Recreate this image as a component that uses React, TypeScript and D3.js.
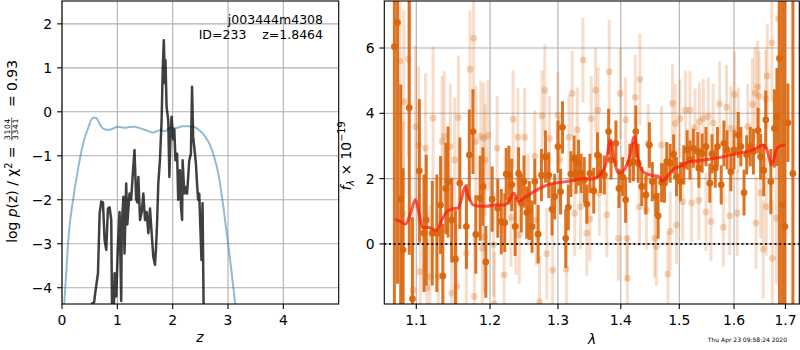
import * as d3 from 'd3';
import React from 'react';

/* Redshift fit summary: p(z) on the left, grism spectrum + model on the right */

const FONT = '"DejaVu Sans", sans-serif';

// ---- left panel: log p(z)
const pzTicksX = [0, 1, 2, 3, 4];
const pzTicksY = [-4, -3, -2, -1, 0, 1, 2];

const priorZ = [0.04, 0.08, 0.11, 0.15, 0.2, 0.27, 0.35, 0.42, 0.47, 0.52, 0.57, 0.62, 0.66, 0.71, 0.78, 0.85, 0.92, 1.0, 1.07, 1.13, 1.2, 1.31, 1.4, 1.52, 1.64, 1.77, 1.87, 1.95, 2.05, 2.18, 2.28, 2.37, 2.43, 2.48, 2.55, 2.63, 2.69, 2.74, 2.83, 2.92, 3.0, 3.06, 3.13];
const priorLogP = [-4.37, -3.6, -2.98, -2.45, -2.0, -1.45, -0.9, -0.55, -0.38, -0.2, -0.13, -0.14, -0.22, -0.34, -0.4, -0.41, -0.38, -0.34, -0.35, -0.36, -0.35, -0.34, -0.37, -0.42, -0.47, -0.42, -0.44, -0.36, -0.37, -0.33, -0.33, -0.34, -0.37, -0.42, -0.5, -0.65, -0.8, -0.98, -1.44, -2.2, -2.98, -3.6, -4.37];

const fitZ = [0.5, 0.55, 0.58, 0.6, 0.65, 0.68, 0.71, 0.74, 0.77, 0.8, 0.83, 0.86, 0.89, 0.905, 0.935, 0.95, 0.98, 1.01, 1.04, 1.07, 1.08, 1.11, 1.13, 1.16, 1.18, 1.2, 1.22, 1.25, 1.28, 1.31, 1.34, 1.36, 1.38, 1.41, 1.44, 1.47, 1.5, 1.53, 1.56, 1.59, 1.62, 1.65, 1.68, 1.7, 1.72, 1.74, 1.77, 1.8, 1.82, 1.84, 1.86, 1.87, 1.89, 1.92, 1.94, 1.96, 1.98, 2.01, 2.03, 2.05, 2.08, 2.1, 2.13, 2.15, 2.17, 2.18, 2.21, 2.23, 2.26, 2.28, 2.3, 2.33, 2.35, 2.37, 2.39, 2.42, 2.44, 2.46, 2.48, 2.5, 2.52, 2.54, 2.56];
const fitLogP = [-4.6, -4.35, -4.33, -4.13, -3.67, -2.31, -2.04, -2.06, -2.92, -3.14, -2.2, -2.17, -2.46, -4.6, -4.6, -3.67, -4.2, -3.07, -2.28, -4.3, -2.58, -1.93, -3.22, -1.63, -2.56, -2.2, -1.86, -2.0, -1.4, -0.87, -1.98, -2.06, -1.48, -2.46, -2.28, -1.86, -2.46, -2.28, -2.76, -2.2, -2.76, -3.3, -3.48, -3.07, -2.46, -1.63, -1.1, -0.19, 0.95, 1.63, 0.65, 1.17, 0.11, -0.19, -1.48, -0.57, -0.11, -0.63, -0.4, -1.1, -0.95, -2.0, -1.33, -2.14, -2.46, -1.1, -1.86, -1.71, -1.86, -1.48, -1.1, -0.95, 0.57, -0.57, -0.8, -1.18, -1.63, -2.0, -1.86, -2.61, -3.37, -2.08, -4.6];

// ---- right panel: spectrum (flux in 1e-19 units)
const specTicksX = [1.1, 1.2, 1.3, 1.4, 1.5, 1.6, 1.7];
const specTicksY = [0, 2, 4, 6];

const grismWave = [1.072, 1.076, 1.08, 1.083, 1.091, 1.095, 1.104, 1.11, 1.113, 1.121, 1.127, 1.132, 1.135, 1.139, 1.142, 1.147, 1.152, 1.158, 1.167, 1.171, 1.176, 1.18, 1.186, 1.19, 1.194,
  1.203, 1.211, 1.216, 1.221, 1.223, 1.227, 1.231, 1.236, 1.241, 1.245, 1.249, 1.253, 1.257, 1.261, 1.265, 1.27, 1.275, 1.281, 1.286, 1.291, 1.295, 1.3, 1.304, 1.307, 1.312, 1.316, 1.32, 1.325, 1.328, 1.332, 1.336, 1.341, 1.345, 1.35,
  1.356, 1.362, 1.367, 1.373, 1.38, 1.384, 1.392, 1.397, 1.403, 1.408, 1.415, 1.421, 1.425, 1.429, 1.435, 1.442, 1.448, 1.453, 1.459, 1.463, 1.469, 1.474, 1.478, 1.484, 1.49, 1.495, 1.502, 1.508, 1.514, 1.519, 1.525,
  1.533, 1.535, 1.541, 1.548, 1.555, 1.559, 1.565, 1.569, 1.576, 1.581, 1.587, 1.594, 1.6, 1.608, 1.613, 1.619, 1.624, 1.631, 1.637, 1.646, 1.651, 1.657, 1.661, 1.671, 1.678, 1.683, 1.688, 1.694, 1.699, 1.705, 1.715];
const grismFlux = [6.04, 6.78, 1.38, -0.18, 4.17, -1.68, 2.24, 0.33, 0.73, 0.33, 0.33, 1.19, -0.98, 1.7, 1.9, 0.73, -0.47, 1.86, 0.53, 2.72, 3.44, 0.29, 1.4, 1.76, -0.55,
  1.37, 1.09, 0.68, 0.65, 2.14, 2.11, 1.81, 0.53, 2.16, 1.25, 1.91, 0.96, 1.02, 0.53, 1.91, 0.3, 2.11, 2.67, 2.11, 1.06, 1.45, 2.98, 1.6, 3.57, 0.17, 1.12, 2.14, 2.62, 2.14, 2.49, 2.16, 1.96, 1.22, 2.16,
  1.63, 2.72, 2.16, 2.11, 3.44, 2.57, 3.08, 1.7, 2.06, 1.35, 2.47, 2.52, 3.44, 2.47, 1.76, 1.5, 3.03, 1.91, 1.45, 0.86, 1.88, 1.86, 2.52, 2.47, 2.75, 2.06, 1.91, 2.42, 2.88, 2.57, 2.93,
  2.83, 2.32, 2.78, 2.98, 1.86, 2.76, 2.32, 2.98, 1.81, 3.08, 2.88, 2.21, 2.88, 3.34, 2.98, 1.57, 2.73, 2.98, 2.83, 3.47, 2.67, 2.26, 3.8, 1.91, 3.54, 3.89, 5.68, 1.2, 0.53, 3.71, 2.16];
const grismErr = [8, 8, 3.5, 2.5, 4.5, 2.5, 2.2, 1.8, 2.0, 1.6, 1.8, 1.5, 1.6, 1.4, 1.7, 1.3, 1.5, 1.4, 1.3, 1.4, 1.3, 1.2, 1.3, 1.2, 1.1,
  1.0, 0.9, 1.0, 0.9, 0.8, 0.9, 0.8, 0.9, 0.8, 0.9, 0.8, 0.8, 0.9, 0.8, 0.7, 0.9, 0.8, 0.8, 0.7, 0.8, 0.7, 0.8, 0.7, 0.8, 0.9, 0.7, 0.7, 0.7, 0.6, 0.7, 0.6, 0.7, 0.6, 0.6,
  0.7, 0.7, 0.6, 0.6, 0.7, 0.6, 0.7, 0.6, 0.6, 0.7, 0.6, 0.6, 0.8, 0.6, 0.6, 0.6, 0.7, 0.6, 0.6, 0.7, 0.6, 0.6, 0.6, 0.6, 0.6, 0.6, 0.6, 0.6, 0.6, 0.6, 0.6,
  0.6, 0.6, 0.6, 0.6, 0.6, 0.6, 0.6, 0.6, 0.6, 0.7, 0.6, 0.6, 0.6, 0.7, 0.6, 0.7, 0.6, 0.6, 0.7, 0.7, 0.7, 0.8, 0.9, 1.0, 1.2, 1.5, 8, 8, 8, 1.2, 8];

const altWave = [1.079, 1.083, 1.084, 1.09, 1.096, 1.099, 1.103, 1.105, 1.112, 1.114, 1.118, 1.122, 1.129, 1.134, 1.137, 1.145, 1.147, 1.151, 1.154, 1.156, 1.167, 1.172, 1.177, 1.178, 1.18, 1.187, 1.189, 1.191, 1.192, 1.193,
  1.197, 1.205, 1.206, 1.21, 1.22, 1.23, 1.233, 1.237, 1.24, 1.242, 1.25, 1.255, 1.265, 1.267, 1.272, 1.276, 1.28, 1.283, 1.287, 1.292, 1.3, 1.303, 1.313, 1.317, 1.322, 1.326, 1.33, 1.335, 1.339, 1.345, 1.35, 1.352,
  1.359, 1.363, 1.365, 1.377, 1.381, 1.396, 1.399, 1.408, 1.41, 1.411, 1.424, 1.431, 1.432, 1.443, 1.446, 1.457, 1.46, 1.469, 1.48, 1.484, 1.488, 1.493, 1.495, 1.501, 1.506, 1.511, 1.519, 1.522, 1.528,
  1.535, 1.536, 1.543, 1.548, 1.552, 1.557, 1.561, 1.573, 1.58, 1.586, 1.592, 1.594, 1.601, 1.606, 1.608, 1.626, 1.635, 1.64, 1.642, 1.645, 1.648, 1.651, 1.656, 1.661, 1.662, 1.664, 1.673, 1.674, 1.682, 1.686];
const altFlux = [5.6, 0.94, 4.36, 5.66, -1.41, 3.59, 3.03, -0.85, 2.93, -1.35, -1.0, 3.85, -1.0, 3.14, 3.29, 2.98, -1.51, 2.57, -1.31, 3.87, -0.29, 5.35, 6.3, -1.61, 3.14, 3.3, -0.13, 3.23, 0.22, 2.57,
  3.32, -0.02, -1.84, 2.93, -0.95, 0.8, 3.82, 0.55, 3.27, 0.28, 3.27, 1.37, 2.69, 0.73, -1.77, 3.92, 4.71, -0.3, 3.23, -0.8, 3.95, 2.57, -0.77, 3.27, 4.61, 0.94, 3.49, 1.14, 5.63, 0.33, 0.77, 3.84,
  4.71, 4.1, 1.55, 0.89, 5.27, 0.17, 4.61, 3.8, 0.17, -1.05, 4.49, 1.14, 5.04, 1.04, 3.08, 0.17, -0.08, 3.03, -0.92, 0.38, 4.3, 3.69, 0.58, 3.84, 1.29, 4.1, 4.1, 1.26, 3.56,
  1.33, 3.75, 3.85, 0.98, 3.9, 0.68, 3.71, 4.29, 0.51, 4.19, 0.86, 3.54, 4.58, 0.94, 3.49, 3.59, 4.27, 4.62, 0.64, 4.81, 4.52, 1.57, -0.16, 4.45, 1.14, 5.14, 6.16, -0.44, 0.79, 6.9];
const altErr = [3.0, 2.8, 2.8, 3.0, 2.5, 2.5, 2.4, 2.4, 2.3, 2.3, 2.2, 2.2, 2.0, 2.0, 2.0, 1.9, 1.9, 1.9, 1.9, 1.9, 1.8, 1.8, 1.8, 1.8, 1.7, 1.7, 1.7, 1.7, 1.7, 1.7,
  1.7, 1.6, 1.6, 1.6, 1.6, 1.5, 1.5, 1.5, 1.5, 1.5, 1.5, 1.4, 1.4, 1.4, 1.4, 1.4, 1.4, 1.4, 1.3, 1.4, 1.3, 1.3, 1.3, 1.3, 1.3, 1.3, 1.3, 1.3, 1.3, 1.3, 1.3, 1.3,
  1.3, 1.3, 1.3, 1.3, 1.6, 1.3, 1.4, 1.3, 1.3, 1.3, 1.3, 1.2, 1.4, 1.2, 1.2, 1.2, 1.2, 1.2, 1.3, 1.2, 1.2, 1.2, 1.2, 1.2, 1.2, 1.2, 1.2, 1.2, 1.2,
  1.2, 1.2, 1.2, 1.2, 1.2, 1.2, 1.2, 1.3, 1.2, 1.3, 1.2, 1.3, 1.3, 1.3, 1.3, 1.3, 1.4, 1.4, 1.4, 1.4, 1.4, 1.4, 1.5, 1.5, 1.5, 1.6, 1.8, 1.8, 2.0, 2.5];

const modelWave = [1.073, 1.08, 1.086, 1.092, 1.099, 1.104, 1.108, 1.116, 1.122, 1.127, 1.133, 1.139, 1.147, 1.156, 1.16, 1.165, 1.17, 1.176, 1.185, 1.195, 1.208, 1.221, 1.228, 1.234, 1.241, 1.25, 1.267, 1.289, 1.31, 1.325, 1.34, 1.353, 1.365, 1.375, 1.383, 1.39, 1.396, 1.405, 1.415, 1.4225, 1.43, 1.44, 1.452, 1.464, 1.47, 1.478, 1.49, 1.5, 1.518, 1.534, 1.555, 1.575, 1.591, 1.61, 1.63, 1.645, 1.655, 1.663, 1.668, 1.672, 1.677, 1.682, 1.69, 1.7];
const modelFlux = [0.75, 0.68, 0.6, 0.9, 1.35, 0.9, 0.5, 0.5, 0.45, 0.42, 0.7, 0.95, 1.07, 1.1, 1.35, 1.75, 1.45, 1.2, 1.15, 1.15, 1.2, 1.19, 1.35, 1.55, 1.3, 1.42, 1.64, 1.84, 1.9, 1.95, 2.0, 1.99, 2.1, 2.4, 3.18, 2.5, 2.17, 2.25, 2.7, 3.28, 2.5, 2.17, 2.1, 2.07, 1.92, 2.05, 2.3, 2.37, 2.52, 2.55, 2.6, 2.65, 2.72, 2.78, 2.85, 2.95, 3.03, 2.9, 2.6, 2.42, 2.6, 2.9, 3.0, 3.04];

const L = { left: 62, right: 338.7, top: 1, bottom: 304 };
const R = { left: 384.3, right: 799.3, top: 1, bottom: 304 };
const TICK = 4.9;
const FS = 13.9;
const ORANGE = '#d9650c';
const GRID = '#b0b0b0';

const fmt = (v: number) => (v < 0 ? '\u2212' + Math.abs(v) : String(v));

function App() {
  const xz = d3.scaleLinear().domain([0, 5]).range([L.left, L.right]);
  const yz = d3.scaleLinear().domain([-4.37, 2.52]).range([L.bottom, L.top]);
  const xl = d3.scaleLog().domain([1.0593, 1.728]).range([R.left, R.right]);
  const yf = d3.scaleLinear().domain([-1.84, 7.44]).range([R.bottom, R.top]);

  const priorLine = d3.line<number>().x((d, i) => xz(priorZ[i])).y(d => yz(d)).curve(d3.curveMonotoneX);
  const fitLine = d3.line<number>().x((d, i) => xz(fitZ[i])).y(d => yz(d));
  const modelLine = d3.line<number>().x((d, i) => xl(modelWave[i])).y(d => yf(d)).curve(d3.curveMonotoneX);

  const bars = (wave: number[], flux: number[], err: number[], opacity: number, dotOpacity: number, key: string) =>
    wave.map((w, i) => (
      <g key={key + i}>
        <line x1={xl(w)} x2={xl(w)} y1={yf(flux[i] - err[i])} y2={yf(flux[i] + err[i])}
          stroke={ORANGE} strokeWidth={3} strokeOpacity={opacity} />
        <circle cx={xl(w)} cy={yf(flux[i])} r={3.4} fill={ORANGE} fillOpacity={dotOpacity} />
      </g>
    ));

  return (
    <svg width={800} height={350} style={{ position: 'absolute', left: 0, top: 0, background: '#fff' }} fontFamily={FONT}>
      <defs>
        <clipPath id="clipL"><rect x={L.left} y={L.top} width={L.right - L.left} height={L.bottom - L.top} /></clipPath>
        <clipPath id="clipR"><rect x={R.left} y={R.top} width={R.right - R.left} height={R.bottom - R.top} /></clipPath>
      </defs>

      {/* left panel */}
      <g>
        {pzTicksX.map(t => <line key={'gx' + t} x1={xz(t)} x2={xz(t)} y1={L.top} y2={L.bottom} stroke={GRID} strokeWidth={1.1} />)}
        {pzTicksY.map(t => <line key={'gy' + t} x1={L.left} x2={L.right} y1={yz(t)} y2={yz(t)} stroke={GRID} strokeWidth={1.1} />)}
        <g clipPath="url(#clipL)">
          <path d={priorLine(priorLogP) || ''} fill="none" stroke="#1f77b4" strokeOpacity={0.5} strokeWidth={2} />
          <path d={fitLine(fitLogP) || ''} fill="none" stroke="#000" strokeOpacity={0.75} strokeWidth={2.5} strokeLinejoin="round" />
        </g>
        <rect x={L.left} y={L.top} width={L.right - L.left} height={L.bottom - L.top} fill="none" stroke="#000" strokeWidth={1.1} />
        {pzTicksX.map(t => (
          <g key={'tx' + t}>
            <line x1={xz(t)} x2={xz(t)} y1={L.bottom} y2={L.bottom + TICK} stroke="#000" strokeWidth={1.1} />
            <text x={xz(t)} y={324.5} textAnchor="middle" fontSize={FS}>{fmt(t)}</text>
          </g>
        ))}
        {pzTicksY.map(t => (
          <g key={'ty' + t}>
            <line x1={L.left - TICK} x2={L.left} y1={yz(t)} y2={yz(t)} stroke="#000" strokeWidth={1.1} />
            <text x={L.left - 9.8} y={yz(t) + 5} textAnchor="end" fontSize={FS}>{fmt(t)}</text>
          </g>
        ))}
        <text x={323} y={24} textAnchor="end" fontSize={12.5}>j003444m4308</text>
        <text x={323} y={38.5} textAnchor="end" fontSize={12.5} style={{ whiteSpace: 'pre' }}>{'ID=233    z=1.8464'}</text>
        <text x={200} y={342} textAnchor="middle" fontSize={FS} fontStyle="italic">z</text>
        <g transform="translate(17.3,153) rotate(-90)" fontSize={FS}>
          <text x={6.5} y={0} textAnchor="end">log <tspan fontStyle="italic">p</tspan>(z) / χ<tspan dy={-5} fontSize={9.7}>2</tspan><tspan dy={5}> =</tspan></text>
          <text x={24} y={-6.9} textAnchor="middle" fontSize={7.6} letterSpacing={0.6}>3104</text>
          <line x1={12.5} x2={35.5} y1={-5.6} y2={-5.6} stroke="#000" strokeWidth={0.6} />
          <text x={24} y={0.2} textAnchor="middle" fontSize={7.6} letterSpacing={0.6}>3341</text>
          <text x={46} y={0} textAnchor="start">= 0.93</text>
        </g>
      </g>

      {/* right panel */}
      <g>
        {specTicksX.map(t => <line key={'rgx' + t} x1={xl(t)} x2={xl(t)} y1={R.top} y2={R.bottom} stroke={GRID} strokeWidth={1.1} />)}
        {specTicksY.map(t => <line key={'rgy' + t} x1={R.left} x2={R.right} y1={yf(t)} y2={yf(t)} stroke={GRID} strokeWidth={1.1} />)}
        <g clipPath="url(#clipR)">
          {bars(altWave, altFlux, altErr, 0.22, 0.28, 'a')}
          {bars(grismWave, grismFlux, grismErr, 0.9, 0.95, 'g')}
          <path d={modelLine(modelFlux) || ''} fill="none" stroke="#ff1a0a" strokeOpacity={0.72} strokeWidth={3} strokeLinejoin="round" />
          <line x1={R.left} x2={R.right} y1={yf(0)} y2={yf(0)} stroke="#000" strokeWidth={2} strokeDasharray="2,2.7" strokeOpacity={0.85} />
        </g>
        <rect x={R.left} y={R.top} width={R.right - R.left} height={R.bottom - R.top} fill="none" stroke="#000" strokeWidth={1.1} />
        {specTicksX.map(t => (
          <g key={'rtx' + t}>
            <line x1={xl(t)} x2={xl(t)} y1={R.bottom} y2={R.bottom + TICK} stroke="#000" strokeWidth={1.1} />
            <text x={xl(t)} y={324.5} textAnchor="middle" fontSize={FS}>{t.toFixed(1)}</text>
          </g>
        ))}
        {specTicksY.map(t => (
          <g key={'rty' + t}>
            <line x1={R.left - TICK} x2={R.left} y1={yf(t)} y2={yf(t)} stroke="#000" strokeWidth={1.1} />
            <text x={R.left - 9.8} y={yf(t) + 5} textAnchor="end" fontSize={FS}>{fmt(t)}</text>
          </g>
        ))}
        <text x={592} y={344} textAnchor="middle" fontSize={FS} fontStyle="italic">λ</text>
        <g transform="translate(351,156) rotate(-90)" fontSize={FS}>
          <text x={0} y={0} textAnchor="middle"><tspan fontStyle="italic">f</tspan><tspan dy={3} fontSize={9.7} fontStyle="italic">λ</tspan><tspan dy={-3}> × 10</tspan><tspan dy={-6} fontSize={9.7}>−19</tspan></text>
        </g>
        <text x={787} y={341.5} textAnchor="end" fontSize={6}>Thu Apr 23 09:58:24 2020</text>
      </g>
    </svg>
  );
}

export default App;
